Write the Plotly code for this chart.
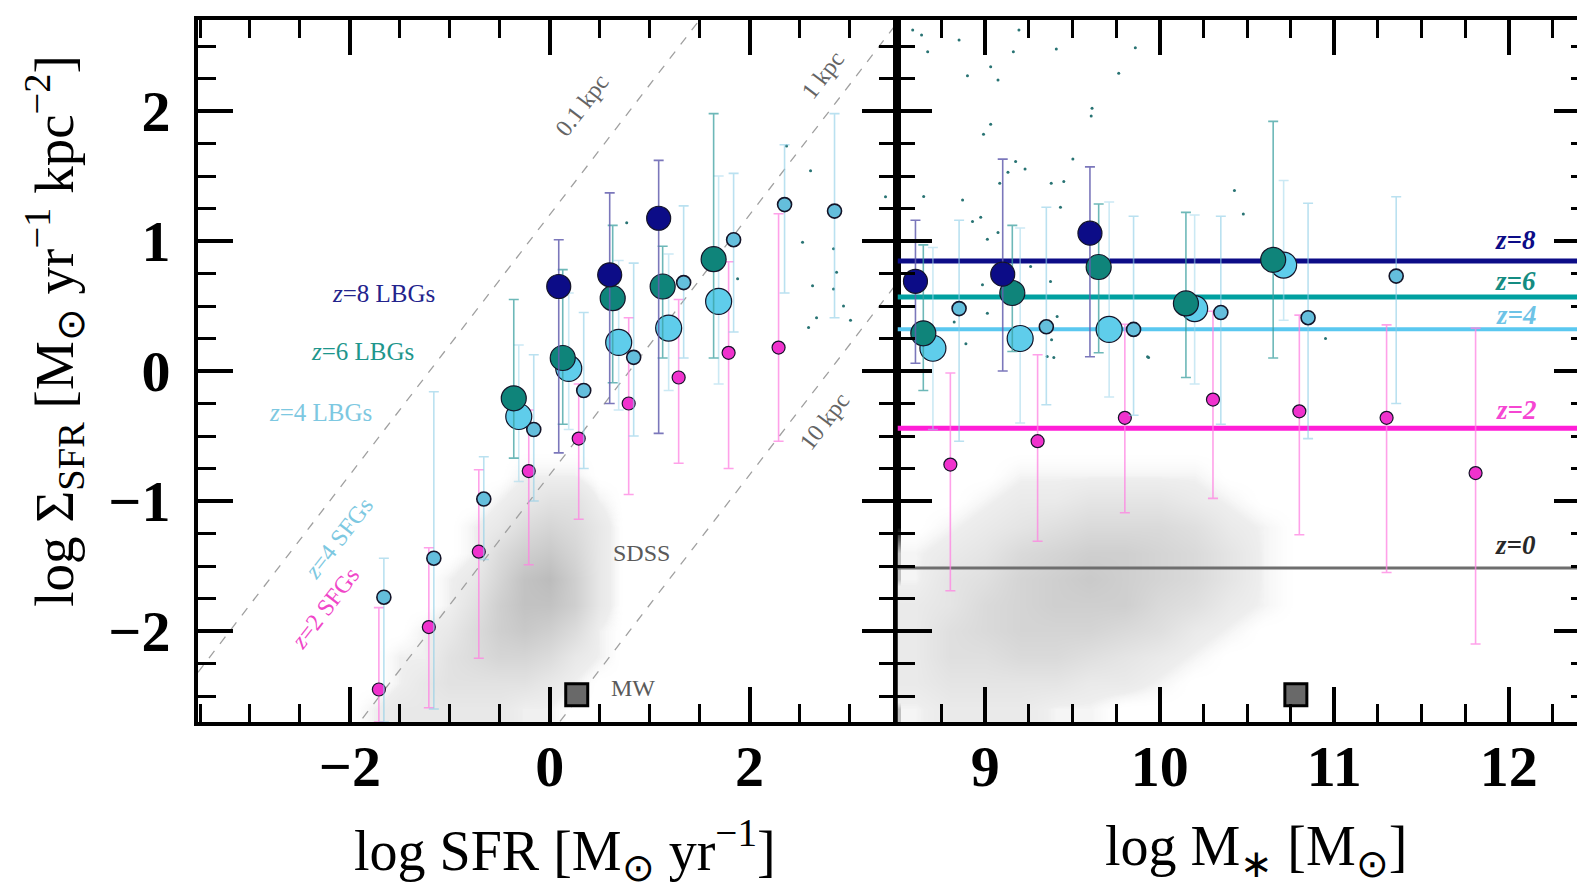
import plotly.graph_objects as go
import math

# ---------------- Left panel: log SFR vs log Sigma_SFR ----------------
z8_sfr = [0.09, 0.60, 1.09]
z8_sig_l = [0.65, 0.74, 1.175]
z8_top_l = [1.01, 1.37, 1.62]
z8_bot_l = [-0.63, -0.25, -0.48]

z6_sfr = [-0.36, 0.13, 0.63, 1.13, 1.64]
z6_sig_l = [-0.21, 0.10, 0.56, 0.65, 0.86]
z6_top_l = [0.55, 0.78, 1.12, 0.96, 1.98]
z6_bot_l = [-0.67, -0.41, -0.09, 0.10, 0.10]

z4L_sfr = [-0.31, 0.19, 0.69, 1.19, 1.69]
z4L_sig_l = [-0.35, 0.02, 0.22, 0.33, 0.535]
z4L_top_l = [0.20, 0.60, 0.85, 0.90, 1.50]
z4L_bot_l = [-0.85, -0.45, -0.30, -0.15, -0.10]

z4S_sfr = [-1.66, -1.16, -0.66, -0.16, 0.34, 0.84, 1.34, 1.84, 2.35, 2.85]
z4S_sig_l = [-1.74, -1.44, -0.985, -0.45, -0.15, 0.105, 0.68, 1.01, 1.28, 1.23]
z4S_top_l = [-1.44, -0.16, -0.66, 0.125, 0.45, 0.83, 1.27, 1.52, 1.74, 1.98]
z4S_bot_l = [-2.70, -2.60, -1.45, -1.00, -0.75, -0.50, 0.10, 0.30, 0.60, 0.41]

z2_sfr = [-1.71, -1.21, -0.71, -0.21, 0.29, 0.79, 1.29, 1.79, 2.29]
z2_sig_l = [-2.45, -1.97, -1.39, -0.77, -0.52, -0.25, -0.05, 0.14, 0.18]
z2_top_l = [-1.82, -1.36, -0.76, -0.30, -0.10, 0.41, 0.55, 0.84, 1.21]
z2_bot_l = [-2.70, -2.59, -2.21, -1.49, -1.14, -0.95, -0.71, -0.75, -0.54]

dots_sfr = [2.37, 2.61, 3.36, 2.53, 1.88, 2.63, 2.84, 2.87, 2.84, 2.94, 2.67, 2.59, 3.01, 0.77]
dots_sig_l = [1.73, 1.54, 1.34, 0.99, 0.71, 0.655, 0.94, 0.76, 0.63, 0.50, 0.41, 0.335, 0.39, 1.14]

mw_sfr = [0.27]
mw_sig = [-2.49]

radii_kpc = [0.1, 1.0, 10.0]

# SDSS density (left), rows = y, cols = x
sdss_l_x = [-2.0, -1.75, -1.5, -1.25, -1.0, -0.75, -0.5, -0.25, 0.0, 0.25, 0.5, 0.75, 1.0]
sdss_l_y = [-2.8, -2.6, -2.4, -2.2, -2.0, -1.8, -1.6, -1.4, -1.2, -1.0, -0.8, -0.6, -0.4]
sdss_l_z = [
    [0, 1, 2, 2, 2, 2, 2, 1, 1, 0, 0, 0, 0],
    [0, 1, 2, 2, 2, 2, 2, 1, 1, 0, 0, 0, 0],
    [0, 0, 1, 2, 3, 3, 3, 3, 2, 1, 0, 0, 0],
    [0, 0, 1, 1, 3, 4, 5, 5, 4, 2, 1, 0, 0],
    [0, 0, 0, 1, 2, 4, 6, 7, 6, 4, 1, 0, 0],
    [0, 0, 0, 0, 1, 3, 6, 8, 8, 6, 2, 0, 0],
    [0, 0, 0, 0, 1, 2, 5, 8, 9, 6, 2, 0, 0],
    [0, 0, 0, 0, 0, 1, 4, 6, 7, 5, 2, 0, 0],
    [0, 0, 0, 0, 0, 1, 2, 4, 5, 4, 2, 0, 0],
    [0, 0, 0, 0, 0, 0, 1, 2, 3, 3, 1, 0, 0],
    [0, 0, 0, 0, 0, 0, 0, 1, 1, 1, 0, 0, 0],
    [0, 0, 0, 0, 0, 0, 0, 0, 0, 0, 0, 0, 0],
    [0, 0, 0, 0, 0, 0, 0, 0, 0, 0, 0, 0, 0],
]

# ---------------- Right panel: log M* vs log Sigma_SFR ----------------
z8_m = [8.60, 9.10, 9.60]
z8_sig_r = [0.69, 0.745, 1.06]
z8_top_r = [1.16, 1.63, 1.57]
z8_bot_r = [0.06, 0.00, 0.11]

z6_m = [8.645, 9.155, 9.65, 10.15, 10.65]
z6_sig_r = [0.29, 0.60, 0.80, 0.52, 0.855]
z6_top_r = [0.97, 1.12, 1.285, 1.22, 1.92]
z6_bot_r = [-0.15, 0.15, 0.14, -0.05, 0.10]

z4L_m = [8.70, 9.20, 9.71, 10.20, 10.71]
z4L_sig_r = [0.175, 0.25, 0.32, 0.48, 0.815]
z4L_top_r = [0.95, 1.10, 1.30, 1.20, 1.465]
z4L_bot_r = [-0.45, -0.40, -0.20, -0.10, 0.39]

z4S_m = [8.85, 9.35, 9.85, 10.35, 10.85, 11.355]
z4S_sig_r = [0.48, 0.34, 0.32, 0.45, 0.41, 0.73]
z4S_top_r = [1.16, 1.26, 1.19, 1.19, 1.29, 1.34]
z4S_bot_r = [-0.54, -0.26, -0.34, -0.41, -0.52, -0.25]

z2_m = [8.80, 9.30, 9.80, 10.305, 10.80, 11.30, 11.81]
z2_sig_r = [-0.72, -0.54, -0.36, -0.22, -0.31, -0.36, -0.785]
z2_top_r = [-0.015, 0.125, 0.36, 0.46, 0.43, 0.355, 0.33]
z2_bot_r = [-1.69, -1.31, -1.09, -0.98, -1.26, -1.55, -2.10]

dots_m = [8.584, 8.635, 8.67, 8.85, 8.898, 9.031, 9.073, 9.161, 9.193, 9.407, 9.86, 9.765,
          9.612, 9.607, 9.031, 8.99, 9.174, 9.228, 9.13, 9.083, 9.378, 9.45, 9.502, 9.431,
          8.647, 8.87, 8.927, 8.974, 9.012, 9.073, 10.428, 10.479, 8.984, 9.012, 8.822,
          8.889, 9.412, 9.38, 9.355, 9.393, 9.936, 9.26, 9.374, 10.95, 9.93]
dots_sig_r = [2.623, 2.584, 2.456, 2.546, 2.272, 2.341, 2.239, 2.456, 2.623, 2.477, 2.487, 2.29,
              2.021, 1.962, 1.898, 1.821, 1.611, 1.554, 1.529, 1.444, 1.444, 1.457, 1.631, 1.26,
              1.342, 1.316, 1.15, 1.183, 1.014, 1.065, 1.388, 1.208, 0.663, 0.445, 0.376,
              0.209, 0.42, 0.24, 0.112, 0.104, 0.104, 0.804, 0.688, 0.25, 0.11]

mw_m = [10.78]

mean_z = ["z=8", "z=6", "z=4", "z=2", "z=0"]
mean_sig = [0.847, 0.57, 0.322, -0.44, -1.515]

sdss_r_x = [8.4, 8.6, 8.8, 9.0, 9.2, 9.4, 9.6, 9.8, 10.0, 10.2, 10.4, 10.6, 10.8, 11.0, 11.2]
sdss_r_y = [-2.8, -2.6, -2.4, -2.2, -2.0, -1.8, -1.6, -1.4, -1.2, -1.0, -0.8, -0.6]
sdss_r_z = [
    [1, 1, 2, 2, 2, 1, 1, 0, 0, 0, 0, 0, 0, 0, 0],
    [1, 1, 2, 2, 2, 1, 1, 0, 0, 0, 0, 0, 0, 0, 0],
    [2, 2, 3, 3, 3, 3, 2, 2, 1, 0, 0, 0, 0, 0, 0],
    [2, 2, 4, 4, 5, 5, 4, 3, 2, 1, 0, 0, 0, 0, 0],
    [2, 2, 4, 5, 6, 6, 6, 5, 4, 2, 1, 0, 0, 0, 0],
    [2, 2, 3, 5, 6, 7, 7, 7, 5, 4, 2, 1, 0, 0, 0],
    [1, 1, 3, 4, 6, 7, 8, 7, 6, 5, 3, 1, 0, 0, 0],
    [1, 1, 2, 3, 5, 6, 7, 7, 6, 5, 3, 1, 0, 0, 0],
    [0, 0, 1, 2, 3, 4, 5, 5, 5, 4, 2, 1, 0, 0, 0],
    [0, 0, 0, 1, 2, 2, 3, 3, 3, 2, 1, 0, 0, 0, 0],
    [0, 0, 0, 0, 1, 1, 1, 1, 1, 1, 0, 0, 0, 0, 0],
    [0, 0, 0, 0, 0, 0, 0, 0, 0, 0, 0, 0, 0, 0, 0],
]

# ---------------- styles ----------------
C8 = "rgb(12,12,135)"
C6 = "rgb(15,132,122)"
C4L = "rgb(95,205,235)"
C4S = "rgb(100,190,220)"
C2 = "rgb(240,50,205)"
E8 = "rgba(100,95,175,0.85)"
E6 = "rgba(60,160,160,0.75)"
E4L = "rgba(160,215,235,0.55)"
E4S = "rgba(140,205,230,0.6)"
E2 = "rgba(255,130,225,0.75)"
SERIF = "Liberation Serif"

XL = [-3.52, 3.48]
XR = [8.497, 12.46]
YR = [-2.7, 2.7]

fig = go.Figure()

sdss_scale = [[0, "rgba(255,255,255,0)"], [0.12, "rgba(238,238,238,1)"], [1, "rgba(188,188,188,1)"]]
fig.add_trace(go.Heatmap(x=sdss_l_x, y=sdss_l_y, z=sdss_l_z, zsmooth="best", zmin=0, zmax=9,
                         colorscale=sdss_scale, showscale=False, xaxis="x", yaxis="y", hoverinfo="skip"))
fig.add_trace(go.Heatmap(x=sdss_r_x, y=sdss_r_y, z=sdss_r_z, zsmooth="best", zmin=0, zmax=10.5,
                         colorscale=sdss_scale, showscale=False, xaxis="x2", yaxis="y2", hoverinfo="skip"))

# constant-radius lines: log Sigma = log SFR - log(2 pi r^2)
for r in radii_kpc:
    off = math.log10(2 * math.pi * r * r)
    fig.add_trace(go.Scatter(x=XL, y=[XL[0] - off, XL[1] - off], mode="lines",
                             line=dict(color="rgb(160,160,160)", width=1.3, dash="dash"),
                             xaxis="x", yaxis="y", showlegend=False, hoverinfo="skip"))

# tiny dots
fig.add_trace(go.Scatter(x=dots_sfr, y=dots_sig_l, mode="markers",
                         marker=dict(size=3, color="rgb(40,115,115)"), xaxis="x", yaxis="y", showlegend=False))
fig.add_trace(go.Scatter(x=dots_m, y=dots_sig_r, mode="markers",
                         marker=dict(size=3, color="rgb(40,115,115)"), xaxis="x2", yaxis="y2", showlegend=False))

# mean horizontal lines (right panel)
line_cols = [C8, "rgb(0,160,160)", "rgb(90,200,240)", "rgb(255,30,215)", "rgb(110,110,110)"]
line_w = [5, 5, 4, 5, 3]
for zlab, s, c, w in zip(mean_z, mean_sig, line_cols, line_w):
    fig.add_trace(go.Scatter(x=XR, y=[s, s], mode="lines", line=dict(color=c, width=w),
                             xaxis="x2", yaxis="y2", showlegend=False, name=zlab))


def err(y, top, bot):
    return [t - v for v, t in zip(y, top)], [v - b for v, b in zip(y, bot)]


def add_pts(x, y, top, bot, col, ecol, size, lw, ax, ay, edge="rgb(20,20,40)"):
    p, m = err(y, top, bot)
    fig.add_trace(go.Scatter(
        x=x, y=y, mode="markers",
        marker=dict(size=size, color=col, line=dict(color=edge, width=lw)),
        error_y=dict(type="data", symmetric=False, array=p, arrayminus=m,
                     color=ecol, thickness=1.6, width=5),
        xaxis=ax, yaxis=ay, showlegend=False))


# left panel
add_pts(z2_sfr, z2_sig_l, z2_top_l, z2_bot_l, C2, E2, 13, 1.2, "x", "y")
add_pts(z4S_sfr, z4S_sig_l, z4S_top_l, z4S_bot_l, C4S, E4S, 14, 1.6, "x", "y")
add_pts(z4L_sfr, z4L_sig_l, z4L_top_l, z4L_bot_l, C4L, E4L, 26, 1.2, "x", "y")
add_pts(z6_sfr, z6_sig_l, z6_top_l, z6_bot_l, C6, E6, 25, 1.2, "x", "y")
add_pts(z8_sfr, z8_sig_l, z8_top_l, z8_bot_l, C8, E8, 24, 1.2, "x", "y")
# right panel
add_pts(z2_m, z2_sig_r, z2_top_r, z2_bot_r, C2, E2, 13, 1.2, "x2", "y2")
add_pts(z4S_m, z4S_sig_r, z4S_top_r, z4S_bot_r, C4S, E4S, 14, 1.6, "x2", "y2")
add_pts(z4L_m, z4L_sig_r, z4L_top_r, z4L_bot_r, C4L, E4L, 26, 1.2, "x2", "y2")
add_pts(z6_m, z6_sig_r, z6_top_r, z6_bot_r, C6, E6, 25, 1.2, "x2", "y2")
add_pts(z8_m, z8_sig_r, z8_top_r, z8_bot_r, C8, E8, 24, 1.2, "x2", "y2")

# Milky Way
for xx, ax, ay in [(mw_sfr, "x", "y"), (mw_m, "x2", "y2")]:
    fig.add_trace(go.Scatter(x=xx, y=mw_sig, mode="markers",
                             marker=dict(symbol="square", size=22, color="rgb(105,105,105)",
                                         line=dict(color="black", width=3)),
                             xaxis=ax, yaxis=ay, showlegend=False))

axis_common = dict(showline=True, linecolor="black", linewidth=4, mirror="ticks",
                   ticks="inside", ticklen=35, tickwidth=3.5, tickcolor="black",
                   showgrid=False, zeroline=False,
                   tickfont=dict(family=SERIF, size=58, color="black", weight="bold"))


def minor(t0, dt):
    return dict(ticks="inside", tick0=t0, dtick=dt, ticklen=18, tickwidth=3, tickcolor="black", showgrid=False)


fig.update_layout(
    width=1585, height=892,
    margin=dict(l=190, r=0, t=12, b=178),
    paper_bgcolor="white", plot_bgcolor="white",
    showlegend=False,
    xaxis=dict(domain=[0, 0.50287], range=XL, tick0=0, dtick=2, anchor="y",
               ticklabelstandoff=-10, minor=minor(0, 0.5), **axis_common),
    xaxis2=dict(domain=[0.50287, 1], range=XR, tick0=9, dtick=1, anchor="y2",
                ticklabelstandoff=-10, minor=minor(9, 0.25), **axis_common),
    yaxis=dict(range=YR, tick0=0, dtick=1, anchor="x", ticklabelstandoff=12,
               minor=minor(0, 0.25), **axis_common),
    yaxis2=dict(range=YR, matches="y", tick0=0, dtick=1, anchor="x2", showticklabels=False,
                minor=minor(0, 0.25), **axis_common),
)

ann = []


def lab(x, y, text, color, size, ax="x", ay="y", angle=0):
    ann.append(dict(x=x, y=y, xref=ax, yref=ay, text=text, showarrow=False, textangle=angle,
                    xanchor="center", yanchor="middle",
                    font=dict(family=SERIF, size=size, color=color)))


ANG = -52.4
lab(-1.66, 0.60, "<i>z</i>=8 LBGs", "rgb(35,35,140)", 25)
lab(-1.87, 0.15, "<i>z</i>=6 LBGs", "rgb(30,150,140)", 25)
lab(-2.29, -0.32, "<i>z</i>=4 LBGs", "rgb(125,200,225)", 25)
lab(-2.11, -1.285, "<i>z</i>=4 SFGs", "rgb(125,200,225)", 24, angle=ANG)
lab(-2.25, -1.82, "<i>z</i>=2 SFGs", "rgb(240,70,200)", 24, angle=ANG)
lab(0.92, -1.40, "SDSS", "rgb(90,90,90)", 24)
lab(0.83, -2.44, "MW", "rgb(90,90,90)", 24)
lab(0.32, 2.05, "0.1 kpc", "rgb(100,100,100)", 24, angle=ANG)
lab(2.73, 2.28, "1 kpc", "rgb(100,100,100)", 24, angle=ANG)
lab(2.75, -0.385, "10 kpc", "rgb(100,100,100)", 24, angle=ANG)

for zlab, yy, c in zip(mean_z, [1.01, 0.69, 0.43, -0.30, -1.34],
                       [C8, "rgb(20,140,130)", "rgb(110,195,230)", "rgb(245,70,210)", "rgb(40,40,40)"]):
    lab(12.04, yy, "<b><i>%s</i></b>" % zlab, c, 27, ax="x2", ay="y2")

# axis titles
ann.append(dict(x=0.2638, y=-0.183, xref="paper", yref="paper", showarrow=False,
                xanchor="center", yanchor="middle",
                text="log SFR [M<sub>⊙</sub> yr<sup>−1</sup>]",
                font=dict(family=SERIF, size=56, color="black")))
ann.append(dict(x=0.7606, y=-0.183, xref="paper", yref="paper", showarrow=False,
                xanchor="center", yanchor="middle",
                text="log M<sub>∗</sub> [M<sub>⊙</sub>]",
                font=dict(family=SERIF, size=56, color="black")))
ann.append(dict(x=-0.103, y=0.557, xref="paper", yref="paper", showarrow=False, textangle=-90,
                xanchor="center", yanchor="middle",
                text="log Σ<sub>SFR</sub> [M<sub>⊙</sub> yr<sup>−1</sup> kpc<sup>−2</sup>]",
                font=dict(family=SERIF, size=55, color="black")))

fig.update_layout(annotations=ann)
fig.write_html("out.html")
